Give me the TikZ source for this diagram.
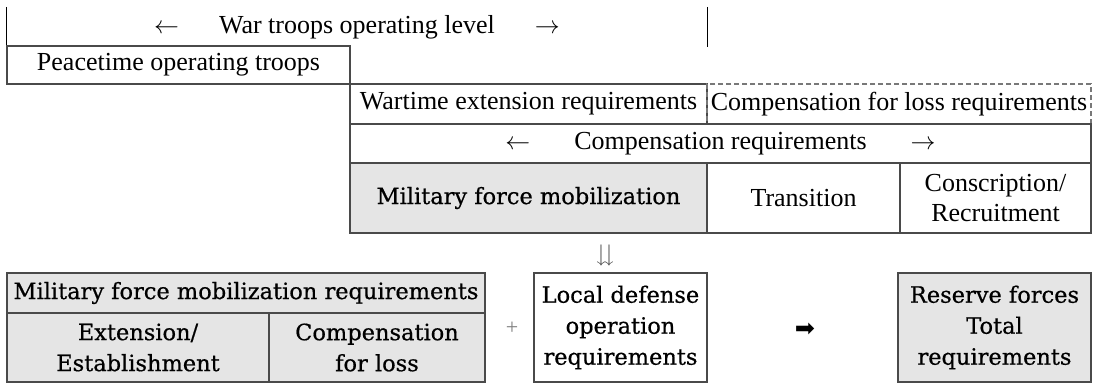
\documentclass[tikz,border=0pt]{standalone}
\usepackage{fontspec}
\usepackage{amssymb}
\setmainfont{Liberation Serif}
\newfontfamily\widefont[FakeBold=0.6]{DejaVu Serif}
\newfontfamily\symfont{DejaVu Sans}
\definecolor{cellgray}{HTML}{E5E5E5}
\definecolor{linegray}{HTML}{4A4A4A}
\tikzset{
  box/.style={draw=linegray, line width=1.2pt, rectangle, inner sep=0pt, align=center,
    font=\fontsize{26}{30}\selectfont},
  cell/.style={box, fill=cellgray},
  widetext/.style={font=\widefont\fontsize{22.5}{31}\selectfont},
  bracket/.style={draw=black, line width=1.2pt}
}
\begin{document}
\begin{tikzpicture}[x=1pt,y=-1pt]
\useasboundingbox[fill=white] (0,0) rectangle (1093,383);
% top bracket
\node[box, draw=none, minimum width=700pt, minimum height=39pt] (war) at (357,27)
  {$\leftarrow$\hspace{40pt}War troops operating level\hspace{40pt}$\rightarrow$};
\draw[bracket] (war.north west) -- (war.south west);
\draw[bracket] (war.north east) -- (war.south east);
\node[box, minimum width=343pt, minimum height=38pt] (peace) at (178.5,65) {Peacetime operating troops};
% rows
\node[box, minimum width=357pt, minimum height=40pt] (wartime) at (528.5,104) {Wartime extension requirements};
\node[box, draw={rgb,255:red,120;green,120;blue,120}, dash pattern=on 5pt off 3pt, minimum width=384pt, minimum height=40pt] (comploss) at (899,104) {Compensation for loss requirements};
\node[box, minimum width=741pt, minimum height=39pt] (compreq) at (720.5,143.5)
  {$\leftarrow$\hspace{44pt}Compensation requirements\hspace{44pt}$\rightarrow$};
\node[cell, widetext, minimum width=357pt, minimum height=70pt] (mobil) at (528.5,198) {Military force mobilization};
\node[box, minimum width=193pt, minimum height=70pt] (trans) at (803.5,198) {Transition};
\node[box, minimum width=191pt, minimum height=70pt] (consc) at (995.5,198) {Conscription/\\Recruitment};
% double arrow
\node[font=\fontsize{24}{24}\selectfont, text=linegray] (dd) at (605,256) {$\downdownarrows$};
% bottom
\node[cell, widetext, minimum width=478pt, minimum height=40pt] (reqhead) at (246,293) {Military force mobilization requirements};
\node[cell, widetext, minimum width=262pt, minimum height=69pt] (ext) at (138,347.5) {Extension/\\Establishment};
\node[cell, widetext, minimum width=216pt, minimum height=69pt] (comp) at (377,347.5) {Compensation\\for loss};
\node[font=\fontsize{22}{22}\selectfont, text=gray] (plus) at (512,328) {+};
\node[box, widetext, minimum width=173pt, minimum height=109pt] (local) at (620.5,327.5) {Local defense\\operation\\requirements};
\node[font=\symfont\fontsize{24}{24}\selectfont] (then) at (805,330) {➡};
\node[cell, widetext, minimum width=193pt, minimum height=109pt] (reserve) at (994.5,327.5) {Reserve forces\\Total\\requirements};
\end{tikzpicture}
\end{document}
